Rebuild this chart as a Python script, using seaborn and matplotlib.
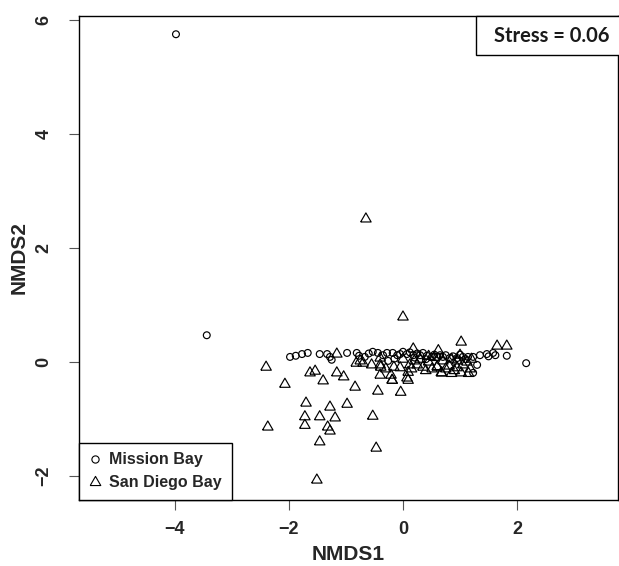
import numpy as np
import pandas as pd
import matplotlib
matplotlib.use("Agg")
import matplotlib.pyplot as plt
import seaborn as sns
from matplotlib.lines import Line2D
from matplotlib.patches import Rectangle

# ---- data ----
mission_x = [-3.98, -3.44, -1.98, -1.88, -1.77, -1.67, -1.46, -1.33, -1.28, -1.25,
             -0.98, -0.81, -0.77, -0.67, -0.60, -0.53, -0.44, -0.35, -0.28, -0.26,
             -0.18, -0.15, -0.10, -0.05, 0.00, 0.07, 0.12, 0.18, 0.20, 0.25,
             0.30, 0.35, 0.40, 0.42, 0.51, 0.55, 0.60, 0.65, 0.70, 0.75,
             0.82, 0.88, 0.95, 1.00, 1.05, 1.10, 1.14, 1.23, 1.30, 1.23,
             1.35, 1.47, 1.50, 1.58, 1.62, 1.82, 2.16]
mission_y = [5.75, 0.47, 0.09, 0.11, 0.14, 0.16, 0.14, 0.14, 0.09, 0.04,
             0.16, 0.16, 0.11, 0.09, 0.15, 0.18, 0.16, 0.12, 0.16, 0.02,
             0.16, 0.06, 0.12, 0.14, 0.18, 0.14, 0.17, 0.12, 0.08, 0.15,
             0.12, 0.16, 0.05, 0.11, 0.09, 0.13, 0.09, 0.12, 0.09, 0.12,
             0.07, 0.10, 0.07, 0.13, 0.09, 0.05, 0.09, 0.09, -0.05, -0.19,
             0.12, 0.14, 0.10, 0.16, 0.12, 0.11, -0.02]

sandiego_x = [-0.65, 0.00, -2.40, -2.07, -1.63, -1.54, -1.40, -1.16, -1.04, -0.84,
              -0.44, -0.04, -1.70, -1.28, -0.98, -0.53, -1.72, -1.46, -1.19, -2.37,
              -1.72, -1.32, -1.28, -1.46, -0.47, -1.51, -0.82, -0.70, -0.75, -0.39,
              -0.40, -0.21, -0.16, -0.19, 0.07, 0.09, 0.12, 0.18, 0.35, 0.51,
              0.67, 0.81, 1.02, 1.02, 1.18, 1.12, 1.65, 1.82, -1.16, -0.40,
              -0.40, -0.19, 0.09, 0.60, 0.68, 0.25, 0.45, 0.60, 0.70, 0.85,
              0.95, 0.30, 0.55, 0.15, 0.40, 0.75, 0.90, 1.05, 1.20, 0.62,
              -0.05, 0.00, 0.20, 1.00, 0.85, 1.15, -0.30, -0.55, 0.45, 0.95]
sandiego_y = [2.51, 0.79, -0.09, -0.39, -0.19, -0.16, -0.33, -0.19, -0.26, -0.44,
              -0.51, -0.53, -0.72, -0.79, -0.74, -0.95, -0.96, -0.96, -0.98, -1.14,
              -1.11, -1.14, -1.21, -1.40, -1.51, -2.07, -0.02, -0.02, 0.02, -0.09,
              -0.23, -0.23, -0.09, -0.32, -0.28, -0.18, -0.05, 0.23, -0.09, -0.12,
              -0.19, -0.07, -0.19, 0.35, -0.12, 0.00, 0.28, 0.28, 0.14, 0.07,
              -0.05, -0.32, -0.32, -0.09, -0.19, -0.05, 0.00, -0.08, 0.02, 0.05,
              -0.10, 0.05, 0.08, -0.12, -0.15, -0.12, -0.15, -0.05, 0.05, 0.20,
              -0.10, 0.05, 0.02, 0.12, -0.20, -0.20, -0.12, -0.05, 0.10, 0.02]

site_labels = ["Mission Bay", "San Diego Bay"]
stress_text = "Stress = 0.06"
x_ticks = [-4, -2, 0, 2]
y_ticks = [-2, 0, 2, 4, 6]

df = pd.DataFrame({
    "NMDS1": mission_x + sandiego_x,
    "NMDS2": mission_y + sandiego_y,
    "site": [site_labels[0]] * len(mission_x) + [site_labels[1]] * len(sandiego_x),
})

# ---- styling ----
sns.set_theme(style="white")
plt.rcParams["font.family"] = ["Liberation Sans", "DejaVu Sans"]
plt.rcParams["axes.unicode_minus"] = True

fig = plt.figure(figsize=(6.19, 5.66), dpi=100)
ax = fig.add_axes([79 / 619, (566 - 500) / 566, (618 - 79) / 619, (500 - 16) / 566])

tri = [(-1, -0.577), (1, -0.577), (0, 1.155), (-1, -0.577)]
markers = {site_labels[0]: "o", site_labels[1]: tri}
sizes = {site_labels[0]: 24, site_labels[1]: 76}

for site in site_labels:
    sub = df[df["site"] == site]
    sns.scatterplot(data=sub, x="NMDS1", y="NMDS2", ax=ax, marker=markers[site],
                    s=sizes[site], color="black", facecolor="none",
                    edgecolor="black", linewidth=0.85, legend=False, zorder=3)
for coll in ax.collections:
    coll.set_facecolor("none")

ax.set_xlim(-5.68, 3.77)
ax.set_ylim(-2.42, 6.07)
ax.set_xticks(x_ticks)
ax.set_yticks(y_ticks)
ax.set_xticklabels([f"{t}".replace("-", "\u2212") for t in x_ticks],
                   fontweight="bold", fontsize=13)
ax.set_yticklabels([f"{t}".replace("-", "\u2212") for t in y_ticks],
                   fontweight="bold", fontsize=13, rotation=90, va="center")
ax.tick_params(axis="both", direction="out", length=7, width=0.8, color="#555555",
               bottom=True, left=True)
ax.tick_params(axis="x", pad=8)
ax.tick_params(axis="y", pad=12)
ax.set_xlabel("NMDS1", fontweight="bold", fontsize=15, labelpad=5)
ax.set_ylabel("NMDS2", fontweight="bold", fontsize=15, labelpad=5)
for sp in ax.spines.values():
    sp.set_color("black")
    sp.set_linewidth(1.0)

# stress box
bx0 = (476 - 79) / (618 - 79)
by0 = (500 - 55) / (500 - 16)
ax.add_patch(Rectangle((bx0, by0), 1.02 - bx0, 1 - by0, transform=ax.transAxes,
                       facecolor="white", edgecolor="black", linewidth=1.0,
                       zorder=5, clip_on=False))
ax.text((bx0 + 1.0) / 2 + 0.008, (by0 + 1) / 2, stress_text, transform=ax.transAxes,
        ha="center", va="center", fontsize=14.5, fontweight="bold",
        family=["Lato", "DejaVu Sans"], zorder=6, color="#1a1a1a")

# legend
handles = [
    Line2D([], [], linestyle="none", marker="o", markersize=5.2, markerfacecolor="none",
           markeredgecolor="black", markeredgewidth=0.8),
    Line2D([], [], linestyle="none", marker=tri, markersize=8.8, markerfacecolor="none",
           markeredgecolor="black", markeredgewidth=0.8),
]
leg = ax.legend(handles, site_labels, loc="lower left", borderaxespad=0,
                frameon=True, fancybox=False, edgecolor="black", framealpha=1,
                prop={"weight": "bold", "size": 11.5}, handlelength=0.8,
                handletextpad=0.5, labelspacing=0.5, borderpad=0.6)
leg.get_frame().set_linewidth(1.0)

fig.savefig("out.png", dpi=100)
